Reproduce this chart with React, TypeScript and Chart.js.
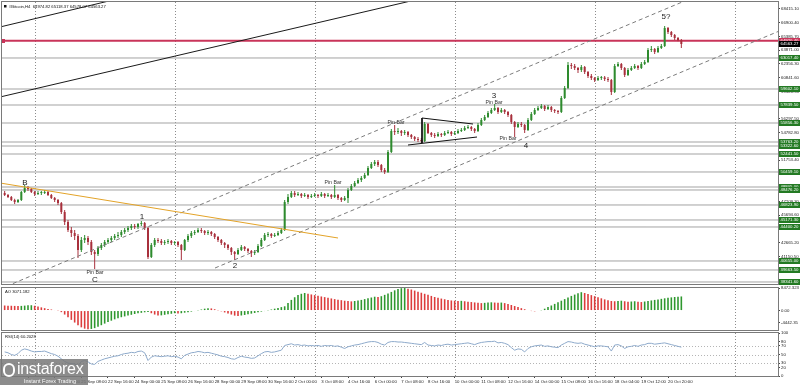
import React, { useEffect, useRef } from "react";
import { Chart, registerables } from "chart.js";

Chart.register(...registerables);

// ---------------- data (H4 candles, 204 bars) ----------------
const opens = [48150,47930,47710,47370,47150,47370,48260,48700,48590,48260,48040,48150,48150,48260,47930,47600,47370,47040,46050,44950,44070,43740,43410,41870,42970,43190,42750,41650,41420,42090,42420,42750,42970,43190,43410,43520,43850,44070,44290,44510,44400,44730,44840,44290,41090,42420,42970,42860,42640,42750,42860,42640,42750,42420,41870,42970,43410,43740,43850,44070,43960,43740,43850,43630,43300,42970,42640,42420,42090,41650,41420,41870,42200,41980,41760,41540,41650,42310,42970,43520,43630,43410,43520,43740,44070,47150,47710,48150,47930,48040,47820,47930,47710,47820,47930,47820,48040,47820,47930,47710,47930,47600,47370,47600,48480,48920,49250,49580,49800,50130,50900,51340,51560,51230,50680,50460,52660,54980,54870,54980,54760,54870,54540,54310,54090,53980,53870,55750,54760,54540,54430,54650,54540,54760,54870,54650,54760,54980,55090,55310,55420,55200,54980,55640,56190,56520,56960,57290,57510,57070,57290,57070,56740,55970,55420,55750,55640,55090,56190,56850,57290,57510,57730,57400,57620,57290,57180,57070,58610,59710,62250,62140,61920,61700,62030,61480,61040,60810,60590,60810,60870,60700,60590,59270,62140,62360,61920,61150,61700,61920,62140,61920,62360,62580,63900,64010,63680,64120,64340,66320,65880,65550,65220,64970];
const highs = [48370,48040,47820,47500,47490,48370,49030,48920,48700,48370,48370,48370,48480,48370,48040,47710,47480,47150,46270,45170,44400,44070,43630,43300,43520,43410,42970,41870,42310,42640,42970,43190,43410,43630,43850,44070,44290,44510,44730,44730,44840,45060,44950,44400,42640,43190,43190,43080,42970,43080,42970,42860,42860,42530,43080,43630,43960,44070,44290,44290,44070,44070,43960,43740,43410,43080,42750,42530,42200,41760,42090,42420,42310,42090,41870,41870,42530,43190,43740,43850,43740,43740,43960,44290,47370,48040,48370,48370,48260,48150,48150,48040,48040,48150,48040,48260,48150,48150,48040,49030,48040,47710,47820,48700,49140,49470,49800,50020,50350,51120,51560,51780,51780,51340,50900,52880,55200,55640,55310,55090,55090,54980,54650,54430,54310,54200,55970,55860,54870,54760,54870,54760,54980,55090,54980,54980,55200,55310,55530,55640,55530,55310,55860,56410,56740,57180,57510,57950,57620,57510,57400,57180,56850,56080,55970,55970,55750,56410,57070,57510,57730,57950,57840,57840,57730,57400,57290,58830,59930,62580,62470,62360,62030,62250,62140,61590,61260,60920,61040,61040,61040,60920,60700,62360,62580,62470,62030,61920,62140,62360,62250,62580,62800,64120,64340,64120,64340,64560,66540,66430,65990,65660,65330,65120];
const lows = [47820,47600,47260,46930,47040,47260,48150,48370,48150,47820,47930,47930,48040,47820,47480,47150,46820,45830,44620,43850,43300,42970,40980,41650,42640,42420,41310,39770,41200,41870,42200,42530,42750,42970,43190,43300,43630,43850,44070,44180,44180,44510,44070,40870,40980,42200,42640,42420,42420,42530,42420,42420,42200,40760,41760,42750,43190,43520,43740,43740,43520,43520,43410,43080,42750,42420,42090,41870,41310,40760,41310,41760,41760,41540,41090,41310,41540,42200,42860,43300,43190,43300,43410,43630,43960,46930,47600,47710,47820,47600,47710,47480,47600,47710,47600,47710,47600,47710,47480,47600,47370,47150,47260,47040,48370,48810,49140,49360,49690,50020,50790,51120,51010,50460,50240,50350,52550,54540,54650,54430,54540,54310,54090,53870,53760,53650,53760,54650,54310,54200,54310,54310,54430,54650,54430,54540,54650,54870,54980,55200,54980,54760,54870,55530,56080,56410,56850,57180,56850,56960,56850,56520,55750,54310,55310,55420,54760,54980,56080,56740,57180,57400,57180,57290,57070,56960,56850,56960,58500,59600,61810,61700,61370,61480,61260,60810,60590,60370,60480,60590,60480,60370,58940,59160,62030,61700,60920,61040,61590,61810,61700,61810,62250,62470,63680,63460,63570,64010,64230,65660,65330,65000,64860,64120];
const closes = [47930,47710,47370,47150,47370,48260,48700,48590,48260,48040,48150,48150,48260,47930,47600,47370,47040,46050,44950,44070,43740,43410,41870,42970,43190,42750,41650,41420,42090,42420,42750,42970,43190,43410,43520,43850,44070,44290,44510,44400,44730,44840,44290,41090,42420,42970,42860,42640,42750,42860,42640,42750,42420,41870,42970,43410,43740,43850,44070,43960,43740,43850,43630,43300,42970,42640,42420,42090,41650,41420,41870,42200,41980,41760,41540,41650,42310,42970,43520,43630,43410,43520,43740,44070,47150,47710,48150,47930,48040,47820,47930,47710,47820,47930,47820,48040,47820,47930,47710,47930,47600,47370,47600,48480,48920,49250,49580,49800,50130,50900,51340,51560,51230,50680,50460,52660,54980,54870,54980,54760,54870,54540,54310,54090,53980,53870,55750,54760,54540,54430,54650,54540,54760,54870,54650,54760,54980,55090,55310,55420,55200,54980,55640,56190,56520,56960,57290,57510,57070,57290,57070,56740,55970,55420,55750,55640,55090,56190,56850,57290,57510,57730,57400,57620,57290,57180,57070,58610,59710,62250,62140,61920,61700,62030,61480,61040,60810,60590,60810,60870,60700,60590,59270,62140,62360,61920,61150,61700,61920,62140,61920,62360,62580,63900,64010,63680,64120,64340,66320,65880,65550,65220,64970,64560];

const aoValues = [1900,1850,1800,1750,1700,1750,1850,1950,2000,1800,1500,1200,900,600,400,200,-100,-600,-1500,-2500,-3500,-4500,-5500,-6300,-6800,-7000,-6900,-6600,-6100,-5500,-4900,-4300,-3800,-3300,-2900,-2500,-2200,-1900,-1600,-1300,-1050,-850,-650,-500,-1000,-1500,-1900,-1800,-1600,-1400,-1200,-1000,-1100,-1000,-800,-600,-400,-200,100,400,700,900,800,500,100,-300,-700,-1100,-1500,-1900,-2000,-1850,-1650,-1400,-1150,-900,-650,-400,-150,150,400,700,1000,1300,1600,2800,4000,5000,5800,6300,6600,6300,6050,5800,5550,5300,5050,4800,4550,4300,4100,3900,3700,3550,3450,3600,3800,4000,4300,4600,4900,5200,5100,5400,5900,6400,7000,7600,8100,8400,8472,8200,7900,7500,7100,6700,6300,5900,5500,5100,4800,4500,4250,4000,3800,3700,3600,3650,3500,3350,3200,3050,2900,2800,2900,3000,3100,3000,2900,3000,2800,2500,2100,1700,1300,900,500,200,-100,-300,-200,100,700,1300,1900,2500,3100,3700,4300,4900,5500,6000,6500,6900,6600,6200,5800,5400,5000,4600,4200,3900,3600,3500,3600,3700,3500,3300,3400,3500,3300,3200,3400,3600,3800,4000,4200,4400,4600,4800,4950,5100,5200,5300];

const rsiValues = [56,54,50,48,52,60,63,61,58,56,57,57,58,55,52,50,46,40,34,30,29,28,24,34,36,33,28,27,34,37,40,42,44,46,47,50,52,53,55,54,57,58,54,36,44,47,46,45,46,47,45,46,44,40,48,51,54,55,57,56,54,55,53,51,49,46,45,43,40,39,43,46,44,43,41,42,47,52,56,57,55,56,58,60,71,73,75,72,73,71,72,70,71,70,71,69,71,70,71,69,70,67,64,68,70,72,73,75,77,79,80,80,78,74,72,78,80,80,79,79,78,77,76,75,74,73,78,72,71,70,72,71,73,74,72,73,74,75,76,77,75,73,76,78,79,80,80,81,77,78,76,73,66,60,63,62,56,64,68,70,71,72,69,70,68,67,66,72,76,80,79,77,76,77,74,72,70,68,70,70,69,68,58,72,73,70,64,68,69,71,69,72,73,76,76,74,75,76,77,75,73,71,69,67];

// right price scale tick values
const priceTicks = [68415.1,66900.4,65385.7,63871.0,62356.3,60841.6,59326.9,57812.2,56297.5,54782.8,53268.1,51753.4,50238.7,48724.0,47209.3,45694.6,44179.9,42665.2,41150.5,39635.8];

// horizontal support / resistance levels
const levelPrices = [63017.4,59602.1,57839.5,55856.3,53763.2,53322.6,52441.5,50459.1,48805.0,48476.2,46823.9,45171.3,44400.2,40655.0,39663.5,38341.6];
const redLevel = 64920.4;
const lastPrice = 64563.27;
const headerText = "#Bitcoin,H4  64974.82 65118.37 64578.07 64563.27";

// time axis
const xTickBars = [7,15,23,31,39,47,55,63,71,79,87,95,103,111,119,127,135,143,151,159,167,175,183,191,199];
const xTickLabels = ["18 Sep 16:00","20 Sep 00:00","21 Sep 08:00","22 Sep 16:00","24 Sep 00:00","25 Sep 08:00","26 Sep 16:00","28 Sep 00:00","29 Sep 08:00","30 Sep 16:00","2 Oct 00:00","3 Oct 08:00","4 Oct 16:00","6 Oct 00:00","7 Oct 08:00","8 Oct 16:00","10 Oct 00:00","11 Oct 08:00","12 Oct 16:00","14 Oct 00:00","15 Oct 08:00","16 Oct 16:00","18 Oct 04:00","19 Oct 12:00","20 Oct 20:00"];
const gridBars = [9, 51, 93, 135, 177, 219];

// indicator axes
const aoTicks = [8472.323, 0, -4442.35];
const aoTickLabels = ["8472.323", "0.00", "-4442.35"];
const aoLabel = "AO 3071.182";
const rsiTicks = [100, 80, 70, 50, 30, 20, 0];
const rsiLevels = [70, 50, 30];
const rsiLabel = "RSI(14) 60.2028";

// drawn objects, in (bar index, price)
const blackLines = [
  [[-1.4, 66432], [32.5, 69406]],
  [[-1.4, 58720], [123.1, 69406]],
];
const orangeLine = [[-1.4, 49247], [100.0, 43188]];
const channelLines = [
  [[-1.4, 37570], [204.7, 69406]],
  [[63.1, 39883], [238.6, 66949]],
];
const triangleLines = [
  [[125.2, 56407], [140.5, 55746]],
  [[121.0, 53433], [141.7, 54314]],
  [[125.2, 56407], [125.2, 53653]],
];
const waveMarks = [
  { text: "B", bar: 6.1, price: 49250 },
  { text: "C", bar: 27.1, price: 38560 },
  { text: "1", bar: 41.2, price: 45500 },
  { text: "2", bar: 69.1, price: 40100 },
  { text: "3", bar: 146.8, price: 58830 },
  { text: "4", bar: 156.4, price: 53320 },
  { text: "5?", bar: 198.4, price: 67530 },
];
const pinBarMarks = [
  { bar: 27.1, price: 39330 },
  { bar: 98.5, price: 49250 },
  { bar: 117.4, price: 55860 },
  { bar: 146.8, price: 58060 },
  { bar: 151.0, price: 54090 },
];

// ---------------- layout / style ----------------
const X_MIN = -0.8;
const X_MAX = 232.0;
const PRICE_MIN = 38121;
const PRICE_MAX = 69186;
const AXIS_W = 22;
const FONT = "'Liberation Sans', 'DejaVu Sans', Arial, sans-serif";
const BULL = "#2e8b2e";
const BEAR = "#a8303c";
const GRID = "#8c8c8c";
const FRAME = "#7a7a7a";
const AXIS_FONT = 4.3;

const idx = closes.map((_, i) => i);

function drawGrid(chart: any) {
  const { ctx, chartArea: a, scales } = chart;
  ctx.save();
  ctx.strokeStyle = GRID;
  ctx.lineWidth = 1;
  ctx.setLineDash([1, 2]);
  for (const b of gridBars) {
    const px = Math.round(scales.x.getPixelForValue(b)) + 0.5;
    ctx.beginPath();
    ctx.moveTo(px, a.top);
    ctx.lineTo(px, a.bottom);
    ctx.stroke();
  }
  ctx.restore();
}
function drawFrame(chart: any) {
  const { ctx, chartArea: a } = chart;
  ctx.save();
  ctx.strokeStyle = FRAME;
  ctx.lineWidth = 1;
  ctx.strokeRect(a.left - 0.5, a.top - 0.5, a.right - a.left + 1, a.bottom - a.top + 1);
  ctx.restore();
}

const yAxisFit = (s: any) => {
  s.width = AXIS_W;
  s.paddingTop = 0;
  s.paddingBottom = 0;
};

const tickFont = { family: FONT, size: AXIS_FONT };

const hiddenX = { type: "linear", min: X_MIN, max: X_MAX, display: false, offset: false, grid: { offset: false } };

function lineDs(pts: number[][], color: string, dash: number[] = [], width = 1, order = 1) {
  return {
    type: "line",
    data: pts.map((p) => ({ x: p[0], y: p[1] })),
    borderColor: color,
    borderWidth: width,
    borderDash: dash,
    pointRadius: 0,
    fill: false,
    order,
  };
}

function mainConfig(): any {
  const datasets: any[] = [];
  for (const lv of levelPrices) datasets.push(lineDs([[X_MIN - 5, lv], [X_MAX + 5, lv]], "#a3a3a3", [], 1, 9));
  datasets.push(lineDs([[X_MIN - 5, redLevel], [X_MAX + 5, redLevel]], "#c9355a", [], 2, 8));
  datasets.push({
    type: "bar",
    data: idx.map((i) => ({ x: i, y: [lows[i], highs[i]] })),
    backgroundColor: idx.map((i) => (closes[i] >= opens[i] ? BULL : BEAR)),
    barThickness: 1,
    grouped: false,
    inflateAmount: 0,
    borderWidth: 0,
    order: 3,
  });
  datasets.push({
    type: "bar",
    data: idx.map((i) => ({ x: i, y: [opens[i], closes[i]] })),
    backgroundColor: idx.map((i) => (closes[i] >= opens[i] ? BULL : BEAR)),
    barThickness: 2,
    minBarLength: 1,
    grouped: false,
    inflateAmount: 0,
    borderWidth: 0,
    order: 2,
  });
  for (const l of blackLines) datasets.push(lineDs(l, "#1a1a1a", [], 1, 0));
  datasets.push(lineDs(orangeLine, "#e3a328", [], 1, 0));
  for (const l of channelLines) datasets.push(lineDs(l, "#7c7c7c", [4, 3], 1, 0));
  for (const l of triangleLines) datasets.push(lineDs(l, "#111", [], 1, 0));

  const decor = {
    id: "mainDecor",
    beforeDatasetsDraw: drawGrid,
    afterDraw(chart: any) {
      const { ctx, chartArea: a, scales } = chart;
      const xs = scales.x;
      const ys = scales.y;
      drawFrame(chart);
      ctx.save();
      ctx.textAlign = "center";
      ctx.textBaseline = "middle";
      ctx.fillStyle = "#222";
      ctx.font = `8px ${FONT}`;
      for (const m of waveMarks) ctx.fillText(m.text, xs.getPixelForValue(m.bar), ys.getPixelForValue(m.price));
      ctx.font = `5.2px ${FONT}`;
      ctx.fillStyle = "#333";
      for (const m of pinBarMarks) ctx.fillText("Pin Bar", xs.getPixelForValue(m.bar), ys.getPixelForValue(m.price));
      // red marker at left of the red level
      ctx.fillStyle = "#c9355a";
      ctx.fillRect(a.left, Math.round(ys.getPixelForValue(redLevel)) - 2, 3, 4);
      ctx.textAlign = "left";
      ctx.fillStyle = "#111";
      ctx.fillRect(a.left + 2, a.top + 3, 2.5, 2.5);
      ctx.font = `4.2px ${FONT}`;
      ctx.fillText(headerText, a.left + 7, a.top + 4.5);
      const box = (price: number, fill: string, txt: string) => {
        const y = Math.round(ys.getPixelForValue(price));
        ctx.fillStyle = fill;
        ctx.fillRect(a.right + 1, y - 3, AXIS_W - 1, 6);
        ctx.fillStyle = "#fff";
        ctx.font = `${AXIS_FONT}px ${FONT}`;
        ctx.textBaseline = "middle";
        ctx.fillText(txt, a.right + 2.5, y);
      };
      for (const lv of levelPrices) box(lv, "#237a23", lv.toFixed(2));
      box(redLevel, "#c9355a", redLevel.toFixed(2));
      box(lastPrice, "#000", lastPrice.toFixed(2));
      ctx.restore();
    },
  };

  return {
    type: "bar",
    data: { datasets },
    plugins: [decor],
    options: {
      animation: false,
      responsive: false,
      events: [],
      layout: { padding: { left: 2, top: 2, right: 0, bottom: 2 } },
      plugins: { legend: { display: false }, tooltip: { enabled: false } },
      scales: {
        x: hiddenX,
        y: {
          type: "linear",
          position: "right",
          min: PRICE_MIN,
          max: PRICE_MAX,
          afterBuildTicks: (s: any) => {
            s.ticks = priceTicks.map((v) => ({ value: v }));
          },
          afterFit: yAxisFit,
          ticks: { font: tickFont, color: "#222", padding: 1, autoSkip: false, callback: (v: any) => Number(v).toFixed(2) },
          grid: { drawOnChartArea: false, tickLength: 2, color: "#444" },
          border: { color: FRAME },
        },
      },
    },
  };
}

function aoConfig(): any {
  const decor = {
    id: "aoDecor",
    beforeDatasetsDraw: drawGrid,
    afterDraw(chart: any) {
      const { ctx, chartArea: a } = chart;
      drawFrame(chart);
      ctx.save();
      ctx.fillStyle = "#111";
      ctx.font = `4.2px ${FONT}`;
      ctx.textBaseline = "middle";
      ctx.fillText(aoLabel, a.left + 3, a.top + 4);
      ctx.restore();
    },
  };
  return {
    type: "bar",
    data: {
      datasets: [
        {
          data: idx.map((i) => ({ x: i, y: aoValues[i] })),
          backgroundColor: idx.map((i) => (i > 0 && aoValues[i] > aoValues[i - 1] ? "#2f982f" : "#dc3c3c")),
          barThickness: 1.6,
          inflateAmount: 0,
          borderWidth: 0,
        },
      ],
    },
    plugins: [decor],
    options: {
      animation: false,
      responsive: false,
      events: [],
      layout: { padding: { left: 2, top: 2, right: 0, bottom: 1 } },
      plugins: { legend: { display: false }, tooltip: { enabled: false } },
      scales: {
        x: hiddenX,
        y: {
          type: "linear",
          position: "right",
          min: -7300,
          max: 8472.323,
          afterBuildTicks: (s: any) => {
            s.ticks = aoTicks.map((v) => ({ value: v }));
          },
          afterFit: yAxisFit,
          ticks: { font: tickFont, color: "#222", padding: 1, autoSkip: false, callback: (_v: any, i: number) => aoTickLabels[i] },
          grid: { drawOnChartArea: false, tickLength: 2, color: "#444" },
          border: { color: FRAME },
        },
      },
    },
  };
}

function rsiConfig(): any {
  const decor = {
    id: "rsiDecor",
    beforeDatasetsDraw(chart: any) {
      drawGrid(chart);
      const { ctx, chartArea: a, scales } = chart;
      ctx.save();
      ctx.strokeStyle = "#b5b5b5";
      ctx.setLineDash([1, 2]);
      for (const lv of rsiLevels) {
        const y = Math.round(scales.y.getPixelForValue(lv)) + 0.5;
        ctx.beginPath();
        ctx.moveTo(a.left, y);
        ctx.lineTo(a.right, y);
        ctx.stroke();
      }
      ctx.restore();
    },
    afterDraw(chart: any) {
      const { ctx, chartArea: a } = chart;
      drawFrame(chart);
      ctx.save();
      ctx.fillStyle = "#111";
      ctx.font = `4.2px ${FONT}`;
      ctx.textBaseline = "middle";
      ctx.fillText(rsiLabel, a.left + 3, a.top + 4);
      ctx.restore();
    },
  };
  return {
    type: "line",
    data: {
      datasets: [
        {
          data: idx.map((i) => ({ x: i, y: rsiValues[i] })),
          borderColor: "#8eaacb",
          borderWidth: 1,
          pointRadius: 0,
          fill: false,
          tension: 0,
        },
      ],
    },
    plugins: [decor],
    options: {
      animation: false,
      responsive: false,
      events: [],
      layout: { padding: { left: 2, top: 2, right: 0, bottom: 0 } },
      plugins: { legend: { display: false }, tooltip: { enabled: false } },
      scales: {
        x: {
          type: "linear",
          min: X_MIN,
          max: X_MAX,
          offset: false,
          position: "bottom",
          afterBuildTicks: (s: any) => {
            s.ticks = xTickBars.map((v) => ({ value: v }));
          },
          afterFit: (s: any) => {
            s.height = 9;
            s.paddingLeft = 0;
            s.paddingRight = 0;
          },
          ticks: { font: tickFont, color: "#222", padding: 1.5, autoSkip: false, maxRotation: 0, align: "start", callback: (_v: any, i: number) => xTickLabels[i] },
          grid: { drawOnChartArea: false, tickLength: 2, color: "#444", offset: false },
          border: { color: FRAME },
        },
        y: {
          type: "linear",
          position: "right",
          min: 0,
          max: 100,
          afterBuildTicks: (s: any) => {
            s.ticks = rsiTicks.map((v) => ({ value: v }));
          },
          afterFit: yAxisFit,
          ticks: { font: tickFont, color: "#222", padding: 1, autoSkip: false },
          grid: { drawOnChartArea: false, tickLength: 2, color: "#444" },
          border: { color: FRAME },
        },
      },
    },
  };
}

function ChartCanvas({ top, height, make }: { top: number; height: number; make: () => any }) {
  const ref = useRef<HTMLCanvasElement>(null);
  useEffect(() => {
    const chart = new Chart(ref.current as HTMLCanvasElement, make());
    return () => chart.destroy();
  }, []);
  return (
    <canvas
      ref={ref}
      width={800}
      height={height}
      style={{ position: "absolute", left: 0, top, width: 800, height, display: "block" }}
    />
  );
}

function Logo() {
  return (
    <div
      style={{
        position: "absolute",
        left: 0,
        top: 359,
        width: 88,
        height: 26,
        background: "rgba(120,120,120,0.85)",
        color: "#fff",
        fontFamily: FONT,
        overflow: "hidden",
      }}
    >
      <div
        style={{
          position: "absolute",
          left: 3,
          top: 4,
          width: 12,
          height: 14,
          borderRadius: 6,
          border: "2px solid #fff",
          boxSizing: "border-box",
        }}
      />
      <div style={{ position: "absolute", left: 17, top: 1, fontSize: 16, lineHeight: "18px", letterSpacing: -0.3 }}>instaforex</div>
      <div style={{ position: "absolute", left: 24, top: 19, fontSize: 5.5, lineHeight: "6px" }}>Instant Forex Trading</div>
    </div>
  );
}

export default function App() {
  return (
    <div style={{ position: "absolute", left: 0, top: 0, width: 800, height: 385, background: "#fff", overflow: "hidden" }}>
      <ChartCanvas top={0} height={286} make={mainConfig} />
      <ChartCanvas top={286} height={45} make={aoConfig} />
      <ChartCanvas top={331} height={54} make={rsiConfig} />
      <Logo />
    </div>
  );
}
